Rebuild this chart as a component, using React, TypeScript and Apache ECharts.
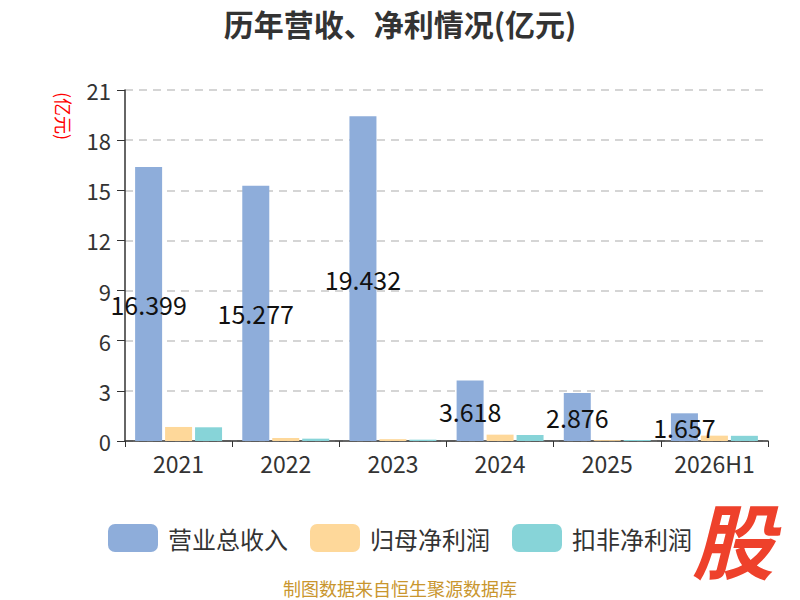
import React, { useEffect, useRef } from "react";
import * as echarts from "echarts";

const categories = ["2021", "2022", "2023", "2024", "2025", "2026H1"];
const revenue = [16.399, 15.277, 19.432, 3.618, 2.876, 1.657];
const netProfit = [0.84, 0.18, 0.11, 0.38, 0.05, 0.32];
const deductedProfit = [0.82, 0.14, 0.08, 0.36, 0.06, 0.31];
const seriesNames = ["营业总收入", "归母净利润", "扣非净利润"];
const colors = ["#8eadda", "#fed89a", "#87d4d8"];

export default function App() {
  const ref = useRef<HTMLDivElement>(null);
  useEffect(() => {
    if (!ref.current) return;
    const chart = echarts.init(ref.current, undefined, { renderer: "svg" });
    const font = "'Noto Sans CJK SC', 'Noto Sans', sans-serif";
    chart.setOption({
      animation: false,
      textStyle: { fontFamily: font },
      title: {
        text: "历年营收、净利情况(亿元)",
        left: "center",
        top: 3,
        textStyle: { fontSize: 30, fontWeight: "bold", color: "#333", fontFamily: font },
      },
      grid: { left: 125, right: 32, top: 90, bottom: 159 },
      legend: {
        top: 519,
        left: "center",
        itemWidth: 50,
        itemHeight: 28,
        itemGap: 22,
        icon: "roundRect",
        textStyle: { fontSize: 24, color: "#333", fontFamily: font, padding: [0, 0, 0, 5] },
        data: seriesNames,
      },
      xAxis: {
        type: "category",
        data: categories,
        axisLine: { lineStyle: { color: "#333", width: 1.5 } },
        axisTick: { show: true, length: 6, lineStyle: { color: "#333" } },
        axisLabel: { fontSize: 23, color: "#333", margin: 10 },
      },
      yAxis: {
        type: "value",
        min: 0,
        max: 21,
        interval: 3,
        axisLine: { show: true, lineStyle: { color: "#333", width: 1.5 } },
        axisTick: { show: true, length: 8, lineStyle: { color: "#333" } },
        axisLabel: { fontSize: 22, color: "#333", margin: 14 },
        splitLine: { lineStyle: { type: [8, 6], color: "#c8c8c8", width: 1.5 } },
      },
      graphic: [
        {
          type: "text",
          x: 73,
          y: 92,
          rotation: -Math.PI / 2,
          style: { text: "(亿元)", fill: "#ff0000", fontSize: 18, fontFamily: font },
        },
        {
          type: "text",
          left: "center",
          top: 579,
          style: { text: "制图数据来自恒生聚源数据库", fill: "#c9962e", fontSize: 18, fontFamily: font },
        },
        {
          type: "text",
          left: 692,
          top: 496,
          style: {
            text: "股",
            fill: "#ee412b",
            fontSize: 82,
            fontWeight: "bold",
            fontStyle: "italic",
            fontFamily: font,
          },
        },
      ],
      series: [
        {
          name: seriesNames[0],
          type: "bar",
          data: revenue,
          barWidth: 27,
          barGap: "11%",
          itemStyle: { color: colors[0] },
          label: {
            show: true,
            position: "inside",
            color: "#111",
            fontSize: 25,
            fontFamily: font,
          },
        },
        {
          name: seriesNames[1],
          type: "bar",
          data: netProfit,
          barWidth: 27,
          barGap: "11%",
          itemStyle: { color: colors[1] },
        },
        {
          name: seriesNames[2],
          type: "bar",
          data: deductedProfit,
          barWidth: 27,
          barGap: "11%",
          itemStyle: { color: colors[2] },
        },
      ],
    });
    return () => chart.dispose();
  }, []);
  return (
    <div
      ref={ref}
      style={{ position: "absolute", left: 0, top: 0, width: 800, height: 600 }}
    />
  );
}
